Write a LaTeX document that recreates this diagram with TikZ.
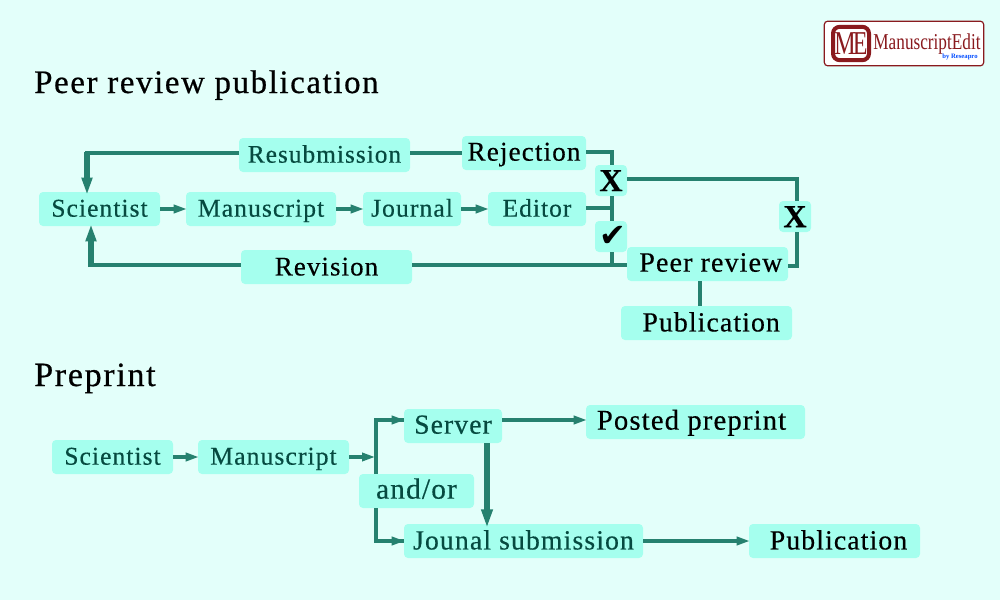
\documentclass[tikz,border=0pt]{standalone}
\usepackage{fontspec}
\usetikzlibrary{arrows.meta}
\setmainfont{Liberation Serif}
\newfontfamily\lblfont[LetterSpace=4,FakeBold=0.4]{Liberation Serif}
\newfontfamily\titlefont[LetterSpace=5,FakeBold=0.6]{Liberation Serif}
\newfontfamily\xfont[FakeBold=0.5]{Liberation Serif Bold}
\newfontfamily\symfont{DejaVu Sans}
\definecolor{bgc}{HTML}{E3FFFA}
\definecolor{boxc}{HTML}{A5FFEE}
\definecolor{linec}{HTML}{26816F}
\definecolor{tealtxt}{HTML}{064A40}
\definecolor{logored}{HTML}{8A1A1E}
\tikzset{
  x=0.75pt,y=-0.75pt,
  boxn/.style 2 args={fill=boxc,rounded corners=3pt,inner sep=0pt,minimum width=#1*0.75pt,minimum height=#2*0.75pt,text height=11.5pt,text depth=0pt},
  fs/.style={font=\lblfont\fontsize{#1}{22}\selectfont},
  teal/.style={text=tealtxt},
  blk/.style={text=black},
  lower text/.style={text height=12.7pt},
  titlen/.style={anchor=base west,inner sep=0pt,text=black,font=\titlefont\fontsize{#1}{28}\selectfont},
  xmark/.style={text=black,text height=16pt,font=\xfont\fontsize{24}{24}\selectfont},
  conn/.style={draw=linec,line width=2.3pt},
  thin head/.style={draw=linec,line width=2.6pt,-{Triangle[length=10pt,width=6pt]},shorten >=-1pt},
  big head/.style={draw=linec,line width=3.8pt,-{Triangle[length=13pt,width=7.5pt]}},
  huge head/.style={draw=linec,line width=5pt,-{Triangle[length=14pt,width=8pt]}},
}
\begin{document}
\begin{tikzpicture}
\useasboundingbox (0,0) rectangle (1000,600);
\fill[bgc] (0,0) rectangle (1000,600);
% logo
\node[draw=logored,line width=0.9pt,fill=white,rounded corners=2.5pt,minimum width=119.5pt,minimum height=33.5pt,inner sep=0pt] (logo) at (904,43.5) {};
\node[draw=logored,line width=3pt,rounded corners=5pt,minimum width=27pt,minimum height=25pt,inner sep=0pt] (logomark) at (851,43.5) {};
\node[inner sep=0pt,text=logored,font=\fontsize{25}{25}\selectfont,xscale=.72] (logome) at (851,43.5) {M\kern-3pt E};
\node[inner sep=0pt,text=logored,font=\fontsize{17}{17}\selectfont,xscale=.76] (logotxt) at (927,44) {ManuscriptEdit};
\node[inner sep=0pt,text=blue!70!cyan,font=\bfseries\fontsize{5}{5}\selectfont] (logoby) at (960,57) {by Reseapro};
% titles
\node[titlen=24.6] (t1) at (34,93) {Peer review publication};
\node[titlen=25.5] (t2) at (34,386) {Preprint};
% top nodes
\node[boxn={121}{34},teal,fs=19.2] (sci) at (99.5,209) {Scientist};
\node[boxn={150}{34},teal,fs=19.3] (man) at (261,209) {Manuscript};
\node[boxn={98}{34},teal,fs=19.3] (jou) at (412,209) {Journal};
\node[boxn={98}{34},teal,fs=19.1] (edi) at (537,209) {Editor};
\node[boxn={171}{34},teal,fs=19] (res) at (324.5,155) {Resubmission};
\node[boxn={124}{34},blk,fs=20.4] (rej) at (524,153) {Rejection};
\node[boxn={32}{31},xmark] (x1) at (611,180.5) {X};
\node[boxn={32}{31},text=black,text height=15pt,font=\symfont\fontsize{24}{24}\selectfont] (chk) at (611,236.5) {\hspace*{3pt}✔};
\node[boxn={32}{31},xmark] (x2) at (795,216.5) {X};
\node[boxn={161}{34},blk,fs=21] (peer) at (707.5,264) {\hspace*{5pt}Peer review};
\node[boxn={171}{34},blk,fs=20.2,lower text] (rev) at (326.5,267) {Revision};
\node[boxn={171}{34},blk,fs=20.8,lower text] (pub) at (706.5,323) {\hspace*{7pt}Publication};
% bottom nodes
\node[boxn={121}{34},teal,fs=19.2] (sci2) at (112.5,457) {Scientist};
\node[boxn={151}{34},teal,fs=19.3] (man2) at (273.5,457) {Manuscript};
\node[boxn={98}{34},teal,fs=20.7] (ser) at (453,426) {Server};
\node[boxn={219}{34},blk,fs=21.5] (post) at (695.5,422) {\hspace*{-6pt}Posted preprint};
\node[boxn={115}{34},teal,fs=22] (and) at (416.5,491) {and/or};
\node[boxn={239}{34},teal,fs=20.8,lower text] (sub) at (523.5,541) {Jounal submission};
\node[boxn={171}{34},blk,fs=20.8,lower text] (pub2) at (834.5,541) {\hspace*{6pt}Publication};
% helper coordinates
\coordinate (a1) at (87,195);
\coordinate (a2) at (91,224);
\coordinate (j1) at (612,208);
\coordinate (j2) at (612,265);
\coordinate (j3) at (700,281);
\coordinate (j4) at (700,306);
\coordinate (m1) at (374,457);
\coordinate (s1) at (376,474);
\coordinate (s2) at (376,508);
\coordinate (a3) at (487,528);
\coordinate (a4) at (487,443);
% connectors top
\draw[conn] (res.west |- 0,153) -| (87,178);
\draw[big head] (87,152) -- (a1);
\draw[conn] (rev.west |- j2) -| (91,245);
\draw[big head] (91,267) -- (a2);
\draw[conn] (res.east |- 0,153) -- (rej.west |- 0,153);
\draw[conn] (rej.east |- 0,152) -| (x1.north -| j1);
\draw[conn] (x1.south -| j1) -- (chk.north -| j1);
\draw[conn] (edi.east |- j1) -- (j1);
\draw[conn] (chk.south -| j2) -- (j2);
\draw[conn] (rev.east |- j2) -- (peer.west |- j2);
\draw[conn] (x1.east |- 0,179) -| (x2.north -| 797,0);
\draw[conn] (x2.south -| 797,0) |- (peer.east |- 0,266);
\draw[conn] (j3) -- (j4);
\draw[thin head] (sci.east) -- (man.west);
\draw[thin head] (man.east) -- (jou.west);
\draw[thin head] (jou.east) -- (edi.west);
% connectors bottom
\draw[thin head] (sci2.east) -- (man2.west);
\draw[thin head] (man2.east) -- (m1);
\draw[conn] (s1) |- (ser.west |- 0,420);
\draw[thin head] (385,420) -- (ser.west |- 0,420);
\draw[conn] (s2) |- (sub.west |- 0,541);
\draw[thin head] (385,541) -- (sub.west |- 0,541);
\draw[thin head] (ser.east |- 0,420) -- (post.west |- 0,420);
\draw[huge head] (a4) -- (a3);
\draw[thin head] (sub.east) -- (pub2.west);
\end{tikzpicture}
\end{document}
